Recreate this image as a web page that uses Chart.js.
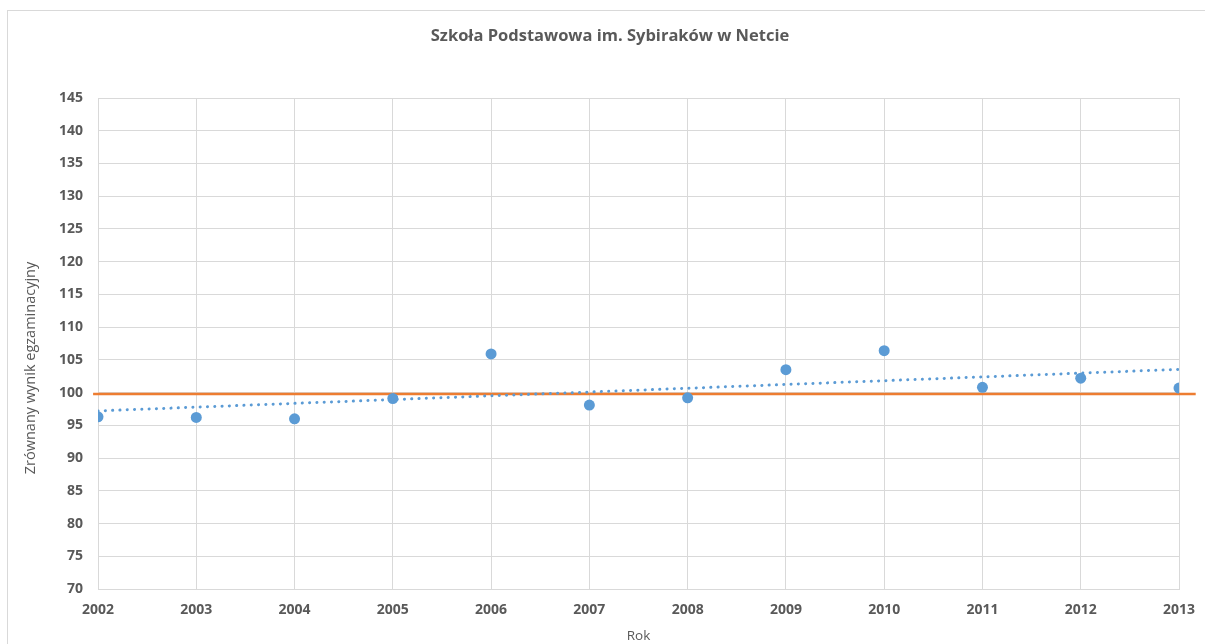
<!DOCTYPE html>
<html>
<head>
<meta charset="utf-8">
<script src="https://cdn.jsdelivr.net/npm/chart.js@4"></script>
<style>
  html, body { margin: 0; padding: 0; background: #ffffff; }
  #wrap { position: relative; width: 1205px; height: 644px; overflow: hidden; }
  canvas { display: block; }
</style>
</head>
<body>
<div id="wrap"><canvas id="c" width="1205" height="644"></canvas></div>
<script>
const chartTitle = 'Szkoła Podstawowa im. Sybiraków w Netcie';
const xAxisTitle = 'Rok';
const yAxisTitle = 'Zrównany wynik egzaminacyjny';

const years = [2002, 2003, 2004, 2005, 2006, 2007, 2008, 2009, 2010, 2011, 2012, 2013];
const scores = [96.3, 96.2, 96.0, 99.1, 105.9, 98.1, 99.2, 103.5, 106.4, 100.8, 102.2, 100.7];

const trendYears = [2002, 2013];
const trendValues = [97.2, 103.55];

const refYears = [2001.95, 2013.17];
const refValues = [99.8, 99.8];

const yTicks = [70, 75, 80, 85, 90, 95, 100, 105, 110, 115, 120, 125, 130, 135, 140, 145];

const FONT = "'Open Sans', 'Liberation Sans', sans-serif";
const TEXT = '#595959';
const GRID = '#d9d9d9';

const toPts = (xs, ys) => xs.map((x, i) => ({ x: x, y: ys[i] }));

const frame = {
  id: 'frame',
  beforeDraw(chart) {
    const ctx = chart.ctx;
    ctx.save();
    ctx.fillStyle = '#ffffff';
    ctx.fillRect(0, 0, chart.width, chart.height);
    ctx.strokeStyle = GRID;
    ctx.lineWidth = 1;
    ctx.strokeRect(7.5, 10.5, 1400, 1000);
    ctx.restore();
  },
  afterDraw(chart) {
    const ctx = chart.ctx;
    ctx.save();
    ctx.fillStyle = TEXT;
    ctx.textAlign = 'center';
    ctx.textBaseline = 'middle';
    ctx.font = "bold 16.5px " + FONT;
    ctx.fillText(chartTitle, 610, 36);
    ctx.translate(31, 368);
    ctx.rotate(-Math.PI / 2);
    ctx.font = "14.5px " + FONT;
    ctx.fillText(yAxisTitle, 0, 0);
    ctx.restore();
  }
};

new Chart(document.getElementById('c'), {
  type: 'scatter',
  data: {
    datasets: [
      {
        label: 'Wynik',
        data: toPts(years, scores),
        backgroundColor: '#5b9bd5',
        borderColor: '#5b9bd5',
        pointRadius: 5.5,
        pointHoverRadius: 5.5,
        borderWidth: 0,
        showLine: false,
        order: 0
      },
      {
        label: 'Trend',
        data: toPts(trendYears, trendValues),
        showLine: true,
        borderColor: '#5b9bd5',
        borderWidth: 3,
        borderDash: [0.1, 7.2],
        borderCapStyle: 'round',
        pointRadius: 0,
        fill: false,
        order: 1
      },
      {
        label: 'Średnia',
        data: toPts(refYears, refValues),
        showLine: true,
        borderColor: '#ed7d31',
        borderWidth: 2.5,
        pointRadius: 0,
        fill: false,
        clip: false,
        order: 2
      }
    ]
  },
  options: {
    responsive: false,
    animation: false,
    layout: { padding: { top: 98, right: 26, bottom: 0, left: 0 } },
    plugins: {
      legend: { display: false },
      tooltip: { enabled: false },
      title: { display: false }
    },
    scales: {
      x: {
        type: 'linear',
        min: 2002,
        max: 2013,
        afterFit(scale) { scale.height = 55; scale.paddingLeft = 0; scale.paddingRight = 0; },
        afterBuildTicks(scale) { scale.ticks = years.map(v => ({ value: v })); },
        ticks: {
          color: TEXT,
          font: { family: FONT, size: 14, weight: 'bold' },
          padding: 13,
          maxRotation: 0,
          autoSkip: false,
          callback: (v) => String(v)
        },
        grid: { color: GRID, lineWidth: 1, drawTicks: false },
        border: { color: GRID, width: 1 },
        title: {
          display: true,
          text: xAxisTitle,
          color: TEXT,
          font: { family: FONT, size: 13.5 },
          padding: { top: 2, bottom: 0 }
        }
      },
      y: {
        type: 'linear',
        min: 70,
        max: 145,
        afterFit(scale) { scale.width = 98; scale.paddingTop = 0; scale.paddingBottom = 0; },
        afterBuildTicks(scale) { scale.ticks = yTicks.map(v => ({ value: v })); },
        ticks: {
          color: TEXT,
          font: { family: FONT, size: 14, weight: 'bold' },
          padding: 15,
          autoSkip: false,
          callback: (v) => String(v)
        },
        grid: { color: GRID, lineWidth: 1, drawTicks: false },
        border: { color: GRID, width: 1 }
      }
    }
  },
  plugins: [frame]
});
</script>
</body>
</html>
